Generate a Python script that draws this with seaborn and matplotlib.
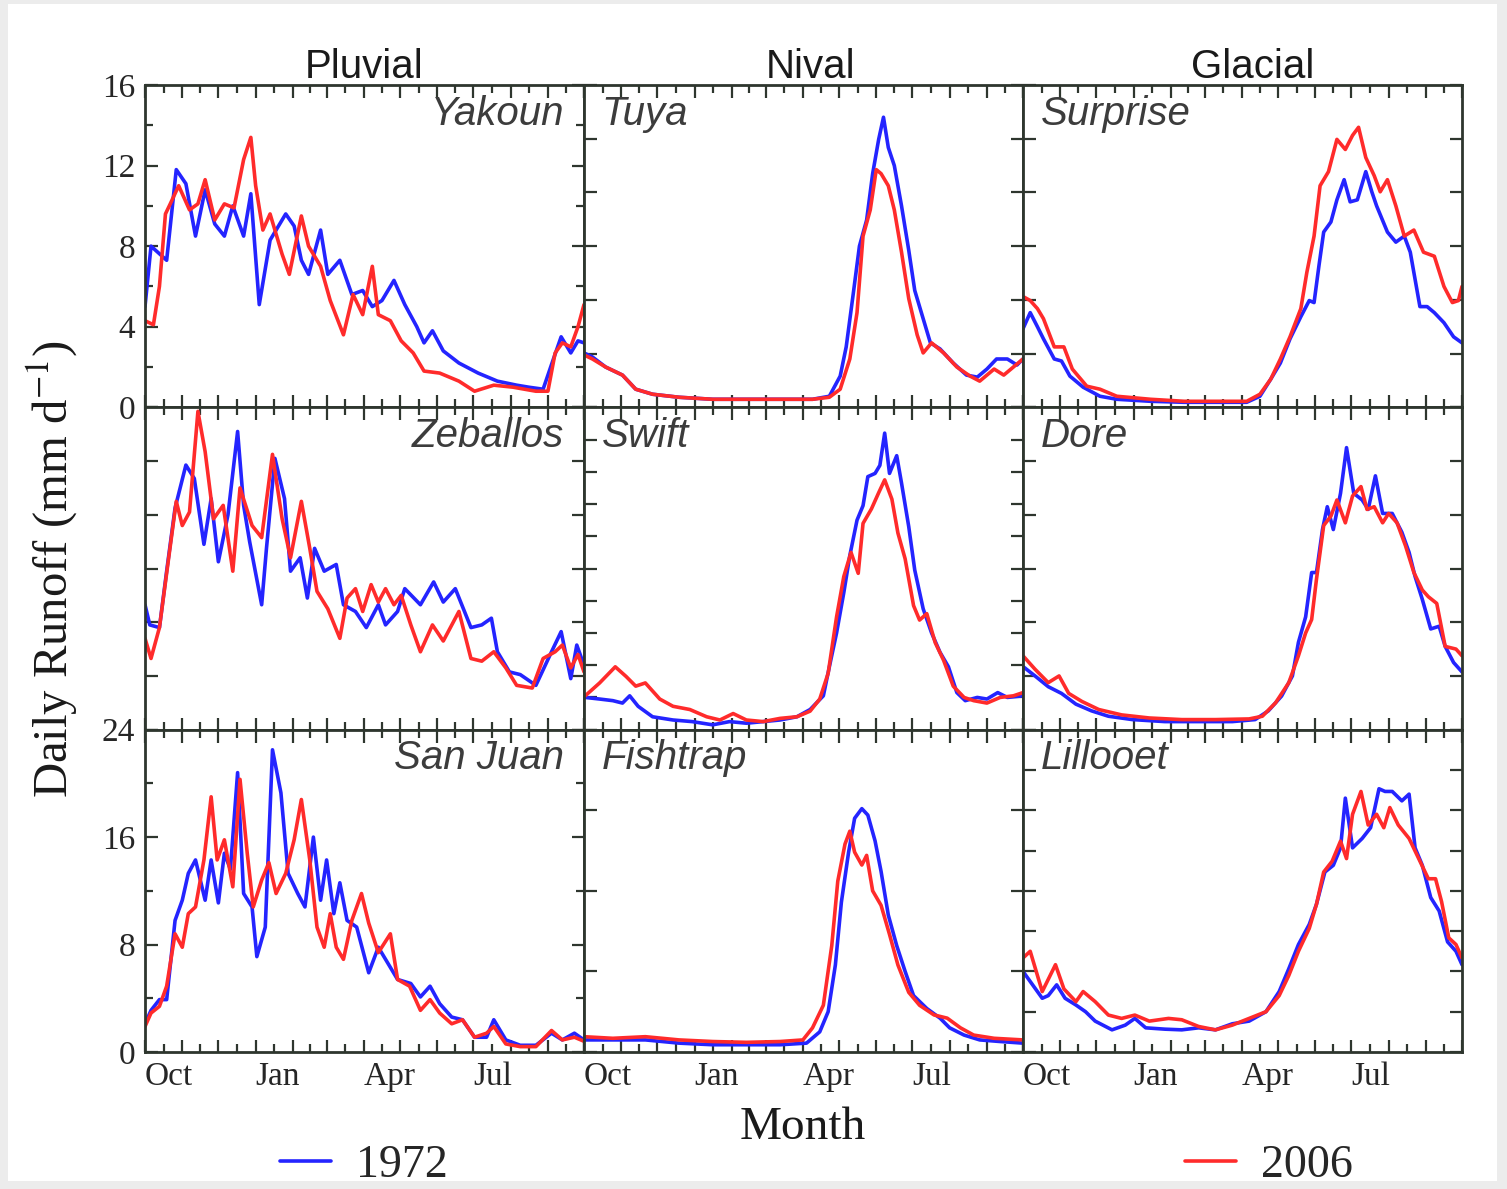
import numpy as np
import matplotlib
matplotlib.use("Agg")
import matplotlib.pyplot as plt
from matplotlib.patches import Rectangle
import seaborn as sns

# ---------------- data (day of water year, runoff) ----------------
years = ["1972", "2006"]
col_titles = ["Pluvial", "Nival", "Glacial"]
month_labels = ["Oct", "", "", "Jan", "", "", "Apr", "", "", "Jul", "", "", ""]
month_days = [0, 31, 61, 92, 123, 151, 182, 212, 243, 273, 304, 335, 365]

yakoun_d72 = [0, 5, 18, 26, 34, 42, 50, 58, 66, 73, 82, 88, 95, 104, 111, 117, 124, 130, 136, 146, 152, 162, 172, 181, 189, 197, 207, 216, 226, 232, 239, 248, 261, 277, 293, 309, 319, 331, 339, 346, 354, 360, 365]
yakoun_v72 = [5.0, 8.0, 7.3, 11.8, 11.1, 8.5, 10.8, 9.1, 8.5, 10.0, 8.5, 10.6, 5.1, 8.3, 9.0, 9.6, 9.0, 7.3, 6.6, 8.8, 6.6, 7.3, 5.6, 5.8, 5.0, 5.3, 6.3, 5.1, 4.0, 3.2, 3.8, 2.8, 2.2, 1.7, 1.3, 1.1, 1.0, 0.9, 2.3, 3.5, 2.7, 3.3, 3.2]
yakoun_d06 = [0, 7, 12, 17, 21, 28, 37, 44, 50, 58, 66, 74, 82, 88, 92, 98, 104, 114, 120, 130, 136, 146, 154, 165, 173, 181, 189, 194, 204, 213, 223, 232, 245, 261, 274, 290, 306, 325, 335, 341, 347, 354, 360, 365]
yakoun_v06 = [4.3, 4.1, 6.0, 9.6, 10.1, 11.0, 9.8, 10.1, 11.3, 9.3, 10.1, 9.9, 12.3, 13.4, 11.0, 8.8, 9.6, 7.6, 6.6, 9.5, 8.0, 7.0, 5.3, 3.6, 5.6, 4.6, 7.0, 4.6, 4.3, 3.3, 2.7, 1.8, 1.7, 1.3, 0.8, 1.1, 1.0, 0.8, 0.8, 2.7, 3.2, 3.0, 4.0, 5.1]

zeballos_d72 = [0, 4, 12, 18, 25, 34, 41, 49, 55, 61, 69, 77, 82, 87, 97, 101, 108, 116, 121, 129, 135, 141, 149, 159, 165, 175, 184, 194, 200, 210, 216, 229, 240, 248, 258, 271, 280, 288, 293, 303, 312, 325, 338, 346, 354, 359, 365]
zeballos_v72 = [9.3, 7.8, 7.6, 11.8, 16.5, 19.7, 18.7, 13.8, 17.2, 12.5, 16.0, 22.2, 16.7, 14.0, 9.3, 13.5, 20.2, 17.2, 11.8, 12.8, 9.8, 13.5, 11.8, 12.3, 9.3, 8.8, 7.6, 9.3, 7.8, 8.8, 10.5, 9.3, 11.0, 9.5, 10.5, 7.6, 7.8, 8.3, 5.8, 4.3, 4.1, 3.3, 5.8, 7.3, 3.8, 6.3, 4.8]
zeballos_d06 = [0, 5, 12, 20, 26, 31, 37, 44, 50, 57, 65, 73, 79, 89, 97, 106, 114, 121, 130, 137, 143, 152, 162, 168, 175, 181, 188, 194, 200, 207, 213, 221, 229, 239, 248, 261, 271, 280, 290, 300, 309, 322, 331, 341, 347, 354, 360, 365]
zeballos_v06 = [6.8, 5.3, 7.6, 13.0, 17.0, 15.2, 16.2, 23.7, 20.7, 15.7, 16.7, 11.8, 18.0, 15.2, 14.3, 20.5, 15.7, 12.8, 17.0, 13.5, 10.3, 9.0, 6.8, 9.8, 10.5, 8.8, 10.8, 9.5, 10.5, 9.3, 10.0, 7.8, 5.8, 7.8, 6.6, 8.8, 5.3, 5.1, 5.8, 4.6, 3.3, 3.1, 5.3, 5.8, 6.3, 4.6, 5.6, 4.3]

sanjuan_d72 = [0, 5, 12, 18, 25, 31, 36, 42, 50, 55, 61, 66, 71, 77, 82, 89, 93, 100, 106, 113, 119, 127, 133, 140, 146, 151, 157, 162, 168, 176, 186, 194, 200, 210, 221, 229, 237, 245, 255, 264, 274, 284, 290, 300, 312, 325, 338, 347, 357, 365]
sanjuan_v72 = [2.1, 3.1, 3.9, 3.9, 9.8, 11.3, 13.3, 14.3, 11.3, 14.3, 11.1, 14.8, 13.6, 20.8, 11.8, 10.8, 7.1, 9.3, 22.5, 19.3, 13.3, 11.8, 10.8, 16.0, 11.3, 14.3, 10.3, 12.6, 9.8, 9.3, 5.9, 7.8, 6.9, 5.4, 5.1, 4.1, 4.9, 3.6, 2.6, 2.4, 1.1, 1.1, 2.4, 0.9, 0.5, 0.5, 1.4, 0.9, 1.4, 0.9]
sanjuan_d06 = [0, 5, 12, 18, 25, 31, 36, 42, 49, 55, 60, 66, 73, 79, 85, 90, 97, 103, 109, 117, 124, 130, 137, 143, 149, 154, 159, 165, 172, 180, 186, 194, 204, 210, 220, 229, 237, 245, 255, 264, 274, 284, 290, 300, 312, 325, 338, 347, 357, 365]
sanjuan_v06 = [1.9, 2.9, 3.4, 4.9, 8.8, 7.8, 10.3, 10.8, 14.3, 19.0, 14.3, 15.8, 12.3, 20.3, 14.8, 10.8, 12.8, 14.1, 11.8, 13.3, 15.8, 18.8, 14.3, 9.3, 7.8, 10.3, 7.8, 6.9, 9.8, 11.8, 9.6, 7.4, 8.8, 5.4, 4.9, 3.1, 3.9, 2.9, 2.1, 2.4, 1.1, 1.4, 1.9, 0.6, 0.4, 0.4, 1.6, 0.9, 1.1, 0.8]

tuya_d72 = [0, 7, 18, 32, 43, 57, 79, 107, 135, 163, 190, 204, 213, 218, 224, 229, 235, 240, 245, 249, 253, 258, 264, 270, 275, 282, 288, 296, 307, 318, 327, 335, 343, 352, 360, 365]
tuya_v72 = [2.7, 2.5, 2.0, 1.6, 0.9, 0.65, 0.5, 0.4, 0.4, 0.4, 0.4, 0.55, 1.55, 3.0, 5.7, 8.0, 9.3, 11.6, 13.3, 14.4, 12.9, 12.0, 10.0, 7.8, 5.8, 4.4, 3.2, 2.9, 2.2, 1.6, 1.5, 1.9, 2.4, 2.4, 2.1, 2.4]
tuya_d06 = [0, 7, 18, 32, 43, 57, 79, 107, 135, 163, 190, 204, 213, 221, 227, 232, 238, 243, 247, 253, 258, 264, 270, 277, 282, 289, 299, 310, 321, 329, 341, 349, 357, 365]
tuya_v06 = [2.6, 2.4, 2.0, 1.6, 0.9, 0.65, 0.5, 0.4, 0.4, 0.4, 0.4, 0.5, 0.9, 2.4, 4.7, 8.5, 9.8, 11.8, 11.6, 11.0, 9.8, 7.7, 5.4, 3.6, 2.7, 3.2, 2.7, 2.0, 1.55, 1.3, 1.9, 1.6, 2.0, 2.4]

swift_d72 = [1, 13, 24, 32, 38, 45, 57, 74, 90, 107, 121, 135, 149, 163, 177, 188, 199, 204, 210, 216, 221, 227, 232, 236, 242, 246, 250, 254, 260, 264, 270, 275, 282, 289, 296, 303, 310, 317, 327, 335, 344, 352, 365]
swift_v72 = [2.0, 1.9, 1.8, 1.65, 2.1, 1.45, 0.8, 0.6, 0.5, 0.3, 0.5, 0.4, 0.5, 0.6, 0.8, 1.25, 2.1, 3.9, 6.0, 8.5, 10.8, 13.0, 13.9, 15.7, 15.9, 16.4, 18.4, 15.9, 17.0, 15.3, 12.6, 9.9, 7.5, 6.0, 4.8, 3.9, 2.3, 1.8, 2.0, 1.9, 2.3, 2.0, 2.1]
swift_d06 = [1, 13, 26, 35, 43, 51, 63, 74, 88, 102, 113, 124, 135, 149, 163, 177, 188, 196, 203, 210, 216, 222, 228, 232, 239, 245, 250, 256, 261, 267, 274, 279, 285, 292, 299, 307, 316, 324, 335, 346, 357, 365]
swift_v06 = [2.1, 2.9, 3.9, 3.3, 2.7, 2.9, 1.9, 1.45, 1.25, 0.8, 0.6, 1.0, 0.6, 0.5, 0.7, 0.8, 1.15, 1.9, 3.5, 7.0, 9.5, 11.0, 9.7, 12.8, 13.7, 14.7, 15.5, 14.3, 12.2, 10.6, 7.7, 6.8, 7.2, 5.4, 4.3, 2.7, 2.0, 1.8, 1.65, 2.0, 2.1, 2.3]

fishtrap_d72 = [0, 24, 51, 79, 107, 135, 163, 185, 196, 203, 209, 214, 220, 225, 231, 236, 242, 247, 253, 260, 267, 274, 285, 296, 304, 316, 329, 346, 365]
fishtrap_v72 = [0.75, 0.75, 0.75, 0.55, 0.45, 0.45, 0.45, 0.55, 1.25, 2.5, 5.4, 9.3, 12.4, 14.5, 15.1, 14.7, 13.1, 11.2, 8.5, 6.6, 5.0, 3.5, 2.7, 2.1, 1.5, 1.05, 0.75, 0.65, 0.55]
fishtrap_d06 = [0, 24, 51, 79, 107, 135, 163, 182, 190, 199, 206, 211, 217, 221, 225, 231, 235, 240, 247, 254, 261, 270, 279, 291, 302, 313, 324, 341, 365]
fishtrap_v06 = [0.95, 0.85, 0.95, 0.75, 0.65, 0.6, 0.65, 0.75, 1.5, 2.9, 6.6, 10.6, 12.9, 13.7, 12.4, 11.6, 12.2, 10.0, 9.1, 7.3, 5.4, 3.7, 2.9, 2.3, 2.1, 1.5, 1.05, 0.85, 0.75]

surprise_d72 = [0, 6, 12, 17, 26, 32, 39, 50, 64, 78, 106, 134, 161, 186, 197, 206, 214, 222, 231, 238, 242, 246, 250, 256, 261, 267, 272, 278, 285, 290, 294, 303, 310, 317, 322, 330, 336, 342, 350, 358, 365]
surprise_v72 = [3.9, 4.7, 4.0, 3.4, 2.4, 2.3, 1.55, 1.0, 0.55, 0.4, 0.3, 0.25, 0.25, 0.25, 0.55, 1.4, 2.2, 3.4, 4.5, 5.3, 5.2, 7.0, 8.7, 9.2, 10.3, 11.3, 10.2, 10.3, 11.7, 10.7, 10.0, 8.7, 8.2, 8.5, 7.7, 5.0, 5.0, 4.7, 4.2, 3.5, 3.2]
surprise_d06 = [0, 6, 12, 17, 26, 34, 41, 53, 64, 78, 106, 134, 161, 186, 197, 206, 214, 222, 231, 236, 242, 247, 254, 261, 268, 274, 279, 285, 292, 297, 303, 310, 317, 325, 333, 342, 350, 357, 362, 365]
surprise_v06 = [5.5, 5.3, 4.9, 4.4, 3.0, 3.0, 1.9, 1.05, 0.9, 0.55, 0.4, 0.3, 0.3, 0.3, 0.65, 1.4, 2.4, 3.5, 4.9, 6.7, 8.5, 11.0, 11.7, 13.3, 12.8, 13.5, 13.9, 12.4, 11.5, 10.7, 11.3, 10.0, 8.5, 8.8, 7.7, 7.5, 6.0, 5.2, 5.3, 6.0]

dore_d72 = [0, 10, 21, 32, 44, 57, 71, 91, 118, 146, 174, 193, 204, 215, 224, 229, 235, 240, 244, 249, 253, 258, 264, 269, 275, 282, 287, 293, 299, 307, 315, 321, 326, 332, 339, 346, 351, 358, 365]
dore_v72 = [4.7, 4.0, 3.2, 2.7, 1.9, 1.4, 1.0, 0.75, 0.6, 0.6, 0.6, 0.75, 1.4, 2.5, 4.0, 6.5, 8.4, 11.7, 11.7, 14.9, 16.6, 14.9, 17.6, 21.0, 17.6, 17.1, 16.4, 18.9, 16.1, 16.1, 14.7, 13.2, 11.4, 9.7, 7.5, 7.7, 6.2, 5.0, 4.3]
dore_d06 = [0, 10, 21, 30, 38, 49, 63, 82, 105, 132, 160, 188, 199, 210, 221, 229, 235, 240, 244, 250, 256, 261, 268, 274, 281, 286, 292, 299, 304, 311, 318, 325, 332, 337, 344, 351, 360, 365]
dore_v06 = [5.5, 4.5, 3.5, 4.0, 2.7, 2.1, 1.5, 1.1, 0.87, 0.75, 0.75, 0.8, 1.0, 2.0, 3.5, 5.5, 7.2, 8.2, 11.2, 15.2, 15.9, 17.1, 15.4, 17.4, 18.1, 16.4, 16.6, 15.4, 16.1, 15.4, 13.7, 11.7, 10.4, 9.9, 9.4, 6.2, 6.0, 5.5]

lillooet_d72 = [0, 8, 16, 21, 28, 35, 44, 52, 60, 74, 85, 93, 102, 118, 132, 146, 160, 174, 188, 202, 213, 221, 229, 238, 244, 251, 258, 264, 268, 274, 282, 289, 296, 301, 307, 315, 321, 326, 332, 339, 346, 353, 360, 365]
lillooet_v72 = [6.0, 5.0, 4.0, 4.2, 5.0, 4.0, 3.5, 3.0, 2.3, 1.65, 2.0, 2.5, 1.8, 1.7, 1.65, 1.8, 1.65, 2.1, 2.3, 3.0, 4.5, 6.2, 8.0, 9.5, 11.0, 13.4, 13.9, 15.2, 18.9, 15.2, 15.9, 16.7, 19.6, 19.4, 19.4, 18.7, 19.2, 15.2, 13.9, 11.5, 10.5, 8.2, 7.5, 6.5]
lillooet_d06 = [0, 6, 16, 27, 34, 44, 50, 60, 71, 82, 93, 105, 121, 132, 146, 160, 174, 188, 202, 213, 221, 229, 238, 244, 250, 257, 264, 269, 274, 281, 287, 294, 300, 305, 312, 321, 329, 337, 343, 348, 354, 360, 365]
lillooet_v06 = [7.0, 7.5, 4.5, 6.5, 4.7, 3.75, 4.5, 3.75, 2.75, 2.5, 2.75, 2.3, 2.5, 2.4, 1.9, 1.65, 2.0, 2.5, 3.0, 4.2, 5.7, 7.5, 9.2, 11.0, 13.4, 14.2, 15.7, 14.4, 17.7, 19.4, 16.9, 17.7, 16.7, 18.2, 16.9, 15.9, 14.4, 12.9, 12.9, 11.2, 8.5, 8.0, 7.0]

# ---------------- style ----------------
sns.set_style("ticks")
plt.rcParams['font.family'] = ['Liberation Serif', 'DejaVu Serif']
plt.rcParams['mathtext.fontset'] = 'stix'

W, H = 1507, 1189
fig = plt.figure(figsize=(W / 100, H / 100), dpi=100)
fig.patch.set_facecolor('#ececec')
fig.patches.append(Rectangle((8 / W, 8 / H), (W - 18) / W, (H - 12) / H,
                             transform=fig.transFigure, facecolor='white',
                             edgecolor='none', zorder=-10))

gs = fig.add_gridspec(3, 3, left=145 / W, right=1462 / W, top=1 - 85 / H,
                      bottom=1 - 1052 / H, wspace=0, hspace=0)

BLUE = '#2424ff'
RED = '#ff2b2b'
SPINE = '#2e362e'
SANS = ['Liberation Sans', 'DejaVu Sans']

# (row, col, name, d72, v72, d06, v06, ylim, yticks)
panels = [
    (0, 0, "Yakoun", yakoun_d72, yakoun_v72, yakoun_d06, yakoun_v06, 16, np.arange(0, 17, 2)),
    (0, 1, "Tuya", tuya_d72, tuya_v72, tuya_d06, tuya_v06, 16, np.linspace(0, 16, 7)),
    (0, 2, "Surprise", surprise_d72, surprise_v72, surprise_d06, surprise_v06, 16, np.linspace(0, 16, 7)),
    (1, 0, "Zeballos", zeballos_d72, zeballos_v72, zeballos_d06, zeballos_v06, 24, np.arange(0, 25, 4)),
    (1, 1, "Swift", swift_d72, swift_v72, swift_d06, swift_v06, 20, np.arange(0, 21, 2)),
    (1, 2, "Dore", dore_d72, dore_v72, dore_d06, dore_v06, 24, np.arange(0, 25, 4)),
    (2, 0, "San Juan", sanjuan_d72, sanjuan_v72, sanjuan_d06, sanjuan_v06, 24, np.arange(0, 25, 4)),
    (2, 1, "Fishtrap", fishtrap_d72, fishtrap_v72, fishtrap_d06, fishtrap_v06, 20, np.arange(0, 21, 5)),
    (2, 2, "Lillooet", lillooet_d72, lillooet_v72, lillooet_d06, lillooet_v06, 24, np.arange(0, 25, 3)),
]

mid_days = [(a + b) / 2 for a, b in zip(month_days[:-1], month_days[1:])]
handles = {}

for (r, c, name, d72, v72, d06, v06, ymax, yt) in panels:
    ax = fig.add_subplot(gs[r, c])
    sns.lineplot(x=np.array(d72), y=np.array(v72), ax=ax, color=BLUE, lw=2.6,
                 estimator=None, legend=False)
    sns.lineplot(x=np.array(d06), y=np.array(v06), ax=ax, color=RED, lw=2.6,
                 estimator=None, legend=False)
    ax.set_xlim(0, 365)
    ax.set_ylim(0, ymax)
    ax.set_xlabel('')
    ax.set_ylabel('')
    for sp in ax.spines.values():
        sp.set_visible(True)
        sp.set_color(SPINE)
        sp.set_linewidth(2.0)

    ax.set_xticks(month_days)
    ax.set_xticks(mid_days, minor=True)
    if r == 2:
        ax.set_xticklabels(month_labels)
        for lbl in ax.get_xticklabels():
            lbl.set_ha('left')
    else:
        ax.set_xticklabels([])

    if c == 0 and r == 0:
        ax.set_yticks([0, 4, 8, 12, 16])
        ax.set_yticks([2, 6, 10, 14], minor=True)
    elif c == 0 and r == 2:
        ax.set_yticks([0, 8, 16, 24])
        ax.set_yticks([4, 12, 20], minor=True)
    else:
        ax.set_yticks(yt)
        ax.set_yticklabels([])

    ax.tick_params(axis='both', which='both', direction='in', top=True, right=True,
                   color=SPINE, width=1.6, labelsize=24, pad=7)
    ax.tick_params(which='major', length=9)
    ax.tick_params(which='minor', length=6)

    if c == 0:
        ax.text(0.955, 0.97, name, transform=ax.transAxes, ha='right', va='top',
                style='italic', family=SANS, fontsize=29, color='#3c3c3c')
    else:
        ax.text(0.04, 0.97, name, transform=ax.transAxes, ha='left', va='top',
                style='italic', family=SANS, fontsize=29, color='#3c3c3c')

    if r == 0:
        tx = [0.5, 0.515, 0.523][c]
        ax.text(tx, 1 + 7 / 323, col_titles[c], transform=ax.transAxes, ha='center',
                va='baseline', family=SANS, fontsize=29, color='#1a1a1a')

    if r == 2 and c == 0:
        handles['72'] = ax.lines[0]
        handles['06'] = ax.lines[1]

fig.text(52 / W, 1 - 569 / H, 'Daily Runoff (mm d$^{-1}$)', rotation=90,
         ha='center', va='center', fontsize=35, color='#1a1a1a')
fig.text(803 / W, 1 - 1128 / H, 'Month', ha='center', va='center', fontsize=34,
         color='#1a1a1a')

fig.legend(handles=[handles['72']], labels=[years[0]], loc='center',
           bbox_to_anchor=(364 / W, 1 - 1166 / H), frameon=False, fontsize=33,
           handlelength=1.1, handletextpad=0.55, borderpad=0)
fig.legend(handles=[handles['06']], labels=[years[1]], loc='center',
           bbox_to_anchor=(1269 / W, 1 - 1166 / H), frameon=False, fontsize=33,
           handlelength=1.1, handletextpad=0.55, borderpad=0)

fig.savefig('out.png', dpi=100, facecolor=fig.get_facecolor())
